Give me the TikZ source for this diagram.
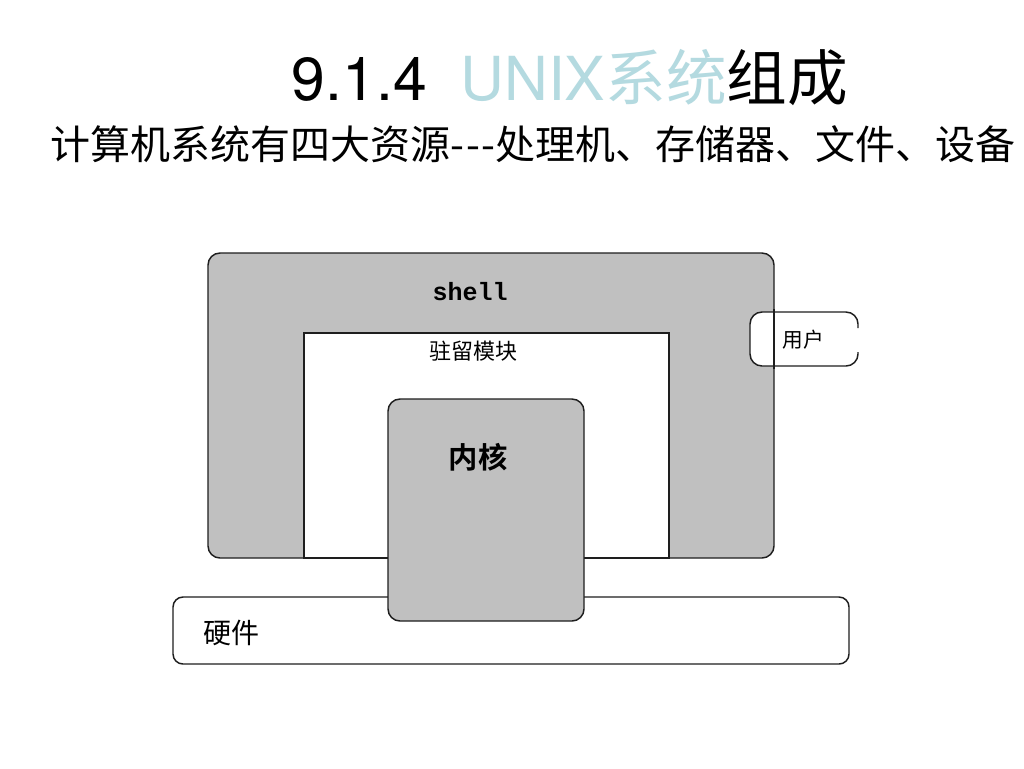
\documentclass[tikz,border=0pt]{standalone}
\usepackage{fontspec}
\usetikzlibrary{calc}
\newfontfamily\cjk{Noto Sans CJK SC}
\newfontfamily\cjkb{Noto Sans CJK SC Bold}
\newfontfamily\heros{TeX Gyre Heros}
\newfontfamily\monob{Liberation Mono Bold}
\definecolor{boxgray}{RGB}{192,192,192}
\definecolor{titleblue}{RGB}{180,218,224}
\definecolor{edge}{RGB}{30,30,30}
\tikzset{
  x=0.75pt, y=-0.75pt,
  panel/.style={inner sep=0pt, outer sep=0pt, line width=1.1pt, draw=edge},
  lbl/.style={inner sep=0pt, outer sep=0pt, text=black},
}
\begin{document}
\begin{tikzpicture}
\useasboundingbox[fill=white] (0,0) rectangle (1024,768);
% title
\node[lbl, anchor=base] (title) at (570,100)
  {\fontsize{45.5pt}{50pt}\selectfont\heros 9.1.4\ \ {\color{titleblue}UNIX{\cjk 系统}}{\cjk 组成}};
\node[lbl, anchor=base] (subtitle) at (533,159)
  {\fontsize{30pt}{34pt}\selectfont\cjk 计算机系统有四大资源{\addfontfeature{LetterSpace=5}---}处理机、存储器、文件、设备};
% shell
\node[panel, fill=boxgray, rounded corners=9pt, minimum width=424.5pt, minimum height=228.75pt] (shell) at (491,405.5) {};
\node[panel, fill=white, minimum width=273.75pt, minimum height=168.75pt] (resident) at (486.5,445.5) {};
% hardware
\node[panel, fill=white, rounded corners=7.5pt, minimum width=507pt, minimum height=50.25pt] (hardware) at (511,630.5) {};
% kernel
\node[panel, fill=boxgray, rounded corners=9pt, minimum width=147pt, minimum height=166.5pt] (kernel) at (486,510) {};
% user
\node[inner sep=0pt, outer sep=0pt, fill=white, rounded corners=9pt, minimum width=81pt, minimum height=40.5pt] (user) at (804,339) {};
\draw[edge, line width=1.1pt, rounded corners=9pt]
  ($(user.north east)+(0,16)$) |- (user.north west) |- (user.south east) -- ($(user.south east)+(0,-14)$);
\draw[edge, line width=1.1pt] ($(shell.east|-user.north)+(0,-3)$) -- ($(shell.east|-user.south)+(0,3)$);
% labels
\node[lbl] (shelltext) at (470,292) {\fontsize{18.75pt}{20pt}\selectfont\monob shell};
\node[lbl] (restext) at (473,351) {\fontsize{16.5pt}{18pt}\selectfont\cjk 驻留模块};
\node[lbl] (kerneltext) at (478,457) {\fontsize{22pt}{24pt}\selectfont\cjkb 内核};
\node[lbl] (usertext) at (803,340) {\fontsize{15.5pt}{17pt}\selectfont\cjk 用户};
\node[lbl] (hwtext) at (231,633) {\fontsize{21pt}{23pt}\selectfont\cjk 硬件};
\end{tikzpicture}
\end{document}
